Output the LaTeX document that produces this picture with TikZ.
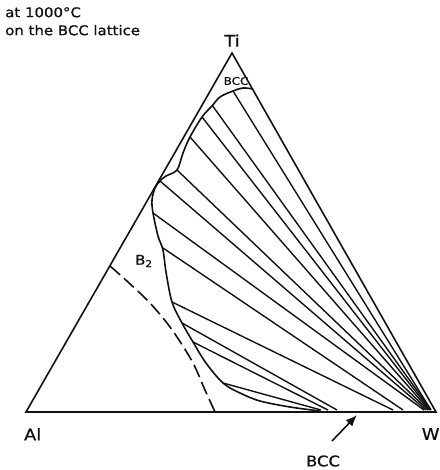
\documentclass[tikz,border=0pt]{standalone}
\usepackage{fontspec}
\setmainfont{DejaVu Sans}[FakeStretch=1.12,FakeBold=0.9]
\usepackage{tikz}
\usetikzlibrary{arrows.meta,calc,positioning}
\usepackage{xcolor}
\definecolor{ink}{HTML}{111111}

\tikzset{
  frame/.style={draw=ink,line width=1.2pt,line join=miter},
  phaseline/.style={draw=ink,line width=1.2pt},
  tieline/.style={draw=ink,line width=1.05pt},
  ordline/.style={draw=ink,line width=1.2pt,dash pattern=on 10pt off 4pt},
  cornerlbl/.style={inner sep=0pt,font=\large,text=ink},
  pointer/.style={-{Latex[length=3mm,width=2.4mm]},ink,line width=1.2pt}
}

\begin{document}
\begin{tikzpicture}[x=0.75pt,y=-0.75pt]
\useasboundingbox (0,0) rectangle (439,470);
% corners of the composition triangle
\coordinate (Al) at (26,412);
\coordinate (W) at (436,412);
\coordinate (Ti) at (232,53);

% tie lines of the two-phase field
\foreach \xa/\ya/\xb in {233/91/431, 212/105/431, 202/117/430, 190/137/429,
    177/170/428, 160/181/426, 153/213/424, 163/248/403, 172/302/393,
    182/323/337, 193/342/328, 223/383/321}
  \draw[tieline] (\xa,\ya) -- (\xb,410);

\draw[frame] (Al) -- (Ti) -- (W) -- cycle;
\draw[draw=ink,line width=1.6pt] (320,412) -- (W);

% BCC phase boundary
\draw[phaseline] plot[smooth,tension=0.55] coordinates {
  (253,89) (243,88) (233,91) (220,97) (212,106) (202,117) (190,137)
  (183,153) (177,170) (166,176) (160,181) (155,188) (152,200) (153,213)
  (158,236) (163,250) (166,272) (172,302) (182,323) (193,342) (206,363)
  (223,383) (240,393) (260,401) (290,407) (320,411)};

% B2 ordering boundary
\draw[ordline] plot[smooth,tension=0.6] coordinates {
  (110,266) (128,282) (147,300) (163,318) (177,337) (193,363) (205,390) (215,412)};

% labels
\node[anchor=north west,align=left,inner sep=0pt,text=ink,
      font=\fontsize{10}{13.5}\selectfont] (title) at (5,7) {at 1000°C\\on the BCC lattice};
\node[cornerlbl,above=1.6mm of Ti] (labTi) {Ti};
\node[cornerlbl,below=4.2mm of Al,xshift=5pt] (labAl) {Al};
\node[cornerlbl,below=4.2mm of W,xshift=-4pt] (labW) {W};
\node[inner sep=0pt,font=\footnotesize,text=ink] (labTop) at (236,81) {BCC};
\node[inner sep=0pt,text=ink] (labB2) at (144,261) {B\textsubscript{2}};
\node[inner sep=0pt,font=\fontsize{11}{13}\selectfont,text=ink] (labBCC) at (323,461) {BCC};

% arrow to the W-rich BCC field
\coordinate (bccTail) at (332,441);
\coordinate (bccTip) at (357,415);
\draw[pointer] (bccTail) -- (bccTip);
\end{tikzpicture}
\end{document}
